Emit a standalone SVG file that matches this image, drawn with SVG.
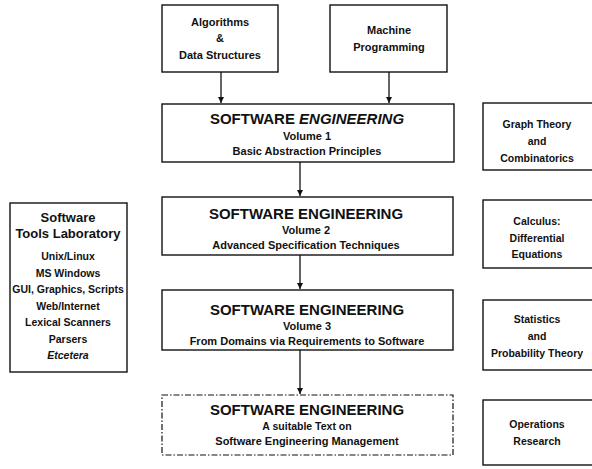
<svg xmlns="http://www.w3.org/2000/svg" width="592" height="469" viewBox="0 0 592 469">
<defs>
<style>
.box{fill:#fff;stroke:#111;stroke-width:1.4}
.dash{fill:#fff;stroke:#111;stroke-width:1.2;stroke-dasharray:6 2 1.5 2}
text{font-family:"Liberation Sans",Arial,sans-serif;font-weight:bold;fill:#111;text-anchor:middle}
.t{font-size:15px}
.m{font-size:11px}
.s{font-size:10.5px}
.l{font-size:13px}
.conn line{stroke:#111;stroke-width:1.3}
</style>
<marker id="ah" markerWidth="8" markerHeight="8" refX="6" refY="3" orient="auto" markerUnits="userSpaceOnUse">
<path d="M0,0 L6,3 L0,6 z" fill="#111"/>
</marker>
</defs>
<rect width="592" height="469" fill="#fff"/>
<g id="algorithms">
<rect class="box" x="162" y="5" width="116" height="67"/>
<text class="m" x="220" y="26">Algorithms</text>
<text class="m" x="220" y="42">&amp;</text>
<text class="m" x="220" y="59">Data Structures</text>
</g>
<g id="machine">
<rect class="box" x="330" y="5" width="117" height="67"/>
<text class="m" x="389" y="34">Machine</text>
<text class="m" x="389" y="51">Programming</text>
</g>
<g id="vol1">
<rect class="box" x="162" y="104" width="292" height="58"/>
<text class="t" x="307" y="124">SOFTWARE <tspan font-style="italic">ENGINEERING</tspan></text>
<text class="m" x="307" y="140">Volume 1</text>
<text class="m" x="307" y="155">Basic Abstraction Principles</text>
</g>
<g id="vol2">
<rect class="box" x="162" y="197" width="291" height="58"/>
<text class="t" x="306" y="219">SOFTWARE ENGINEERING</text>
<text class="m" x="306" y="234">Volume 2</text>
<text class="m" x="306" y="249">Advanced Specification Techniques</text>
</g>
<g id="vol3">
<rect class="box" x="162" y="290" width="291" height="60"/>
<text class="t" x="307" y="315">SOFTWARE ENGINEERING</text>
<text class="m" x="307" y="330">Volume 3</text>
<text class="m" x="307" y="345">From Domains via Requirements to Software</text>
</g>
<g id="mgmt">
<rect class="dash" x="162" y="395" width="291" height="60"/>
<text class="t" x="307" y="415">SOFTWARE ENGINEERING</text>
<text class="s" x="307" y="430">A suitable Text on</text>
<text class="m" x="307" y="445">Software Engineering Management</text>
</g>
<g id="tools">
<rect class="box" x="10" y="203" width="117" height="169"/>
<text class="l" x="68" y="222">Software</text>
<text class="l" x="68" y="238">Tools Laboratory</text>
<text class="s" x="68" y="260">Unix/Linux</text>
<text class="s" x="68" y="277">MS Windows</text>
<text class="s" x="68" y="293">GUI, Graphics, Scripts</text>
<text class="s" x="68" y="310">Web/Internet</text>
<text class="s" x="68" y="326">Lexical Scanners</text>
<text class="s" x="68" y="343">Parsers</text>
<text class="s" x="68" y="359" font-style="italic">Etcetera</text>
</g>
<g id="graph">
<rect class="box" x="483" y="103" width="115" height="67"/>
<text class="s" x="537" y="128">Graph Theory</text>
<text class="s" x="537" y="145">and</text>
<text class="s" x="537" y="162">Combinatorics</text>
</g>
<g id="calculus">
<rect class="box" x="483" y="200" width="115" height="68"/>
<text class="s" x="537" y="225">Calculus:</text>
<text class="s" x="537" y="242">Differential</text>
<text class="s" x="537" y="258">Equations</text>
</g>
<g id="stats">
<rect class="box" x="483" y="300" width="115" height="70"/>
<text class="s" x="537" y="323">Statistics</text>
<text class="s" x="537" y="340">and</text>
<text class="s" x="537" y="357">Probability Theory</text>
</g>
<g id="or">
<rect class="box" x="483" y="400" width="115" height="65"/>
<text class="s" x="537" y="428">Operations</text>
<text class="s" x="537" y="445">Research</text>
</g>
<g id="connectors" class="conn">
<line x1="221" y1="72" x2="221" y2="103" marker-end="url(#ah)"/>
<line x1="389" y1="72" x2="389" y2="103" marker-end="url(#ah)"/>
<line x1="300" y1="162" x2="300" y2="196" marker-end="url(#ah)"/>
<line x1="300" y1="255" x2="300" y2="289" marker-end="url(#ah)"/>
<line x1="300" y1="350" x2="300" y2="394" marker-end="url(#ah)"/>
</g>
</svg>
